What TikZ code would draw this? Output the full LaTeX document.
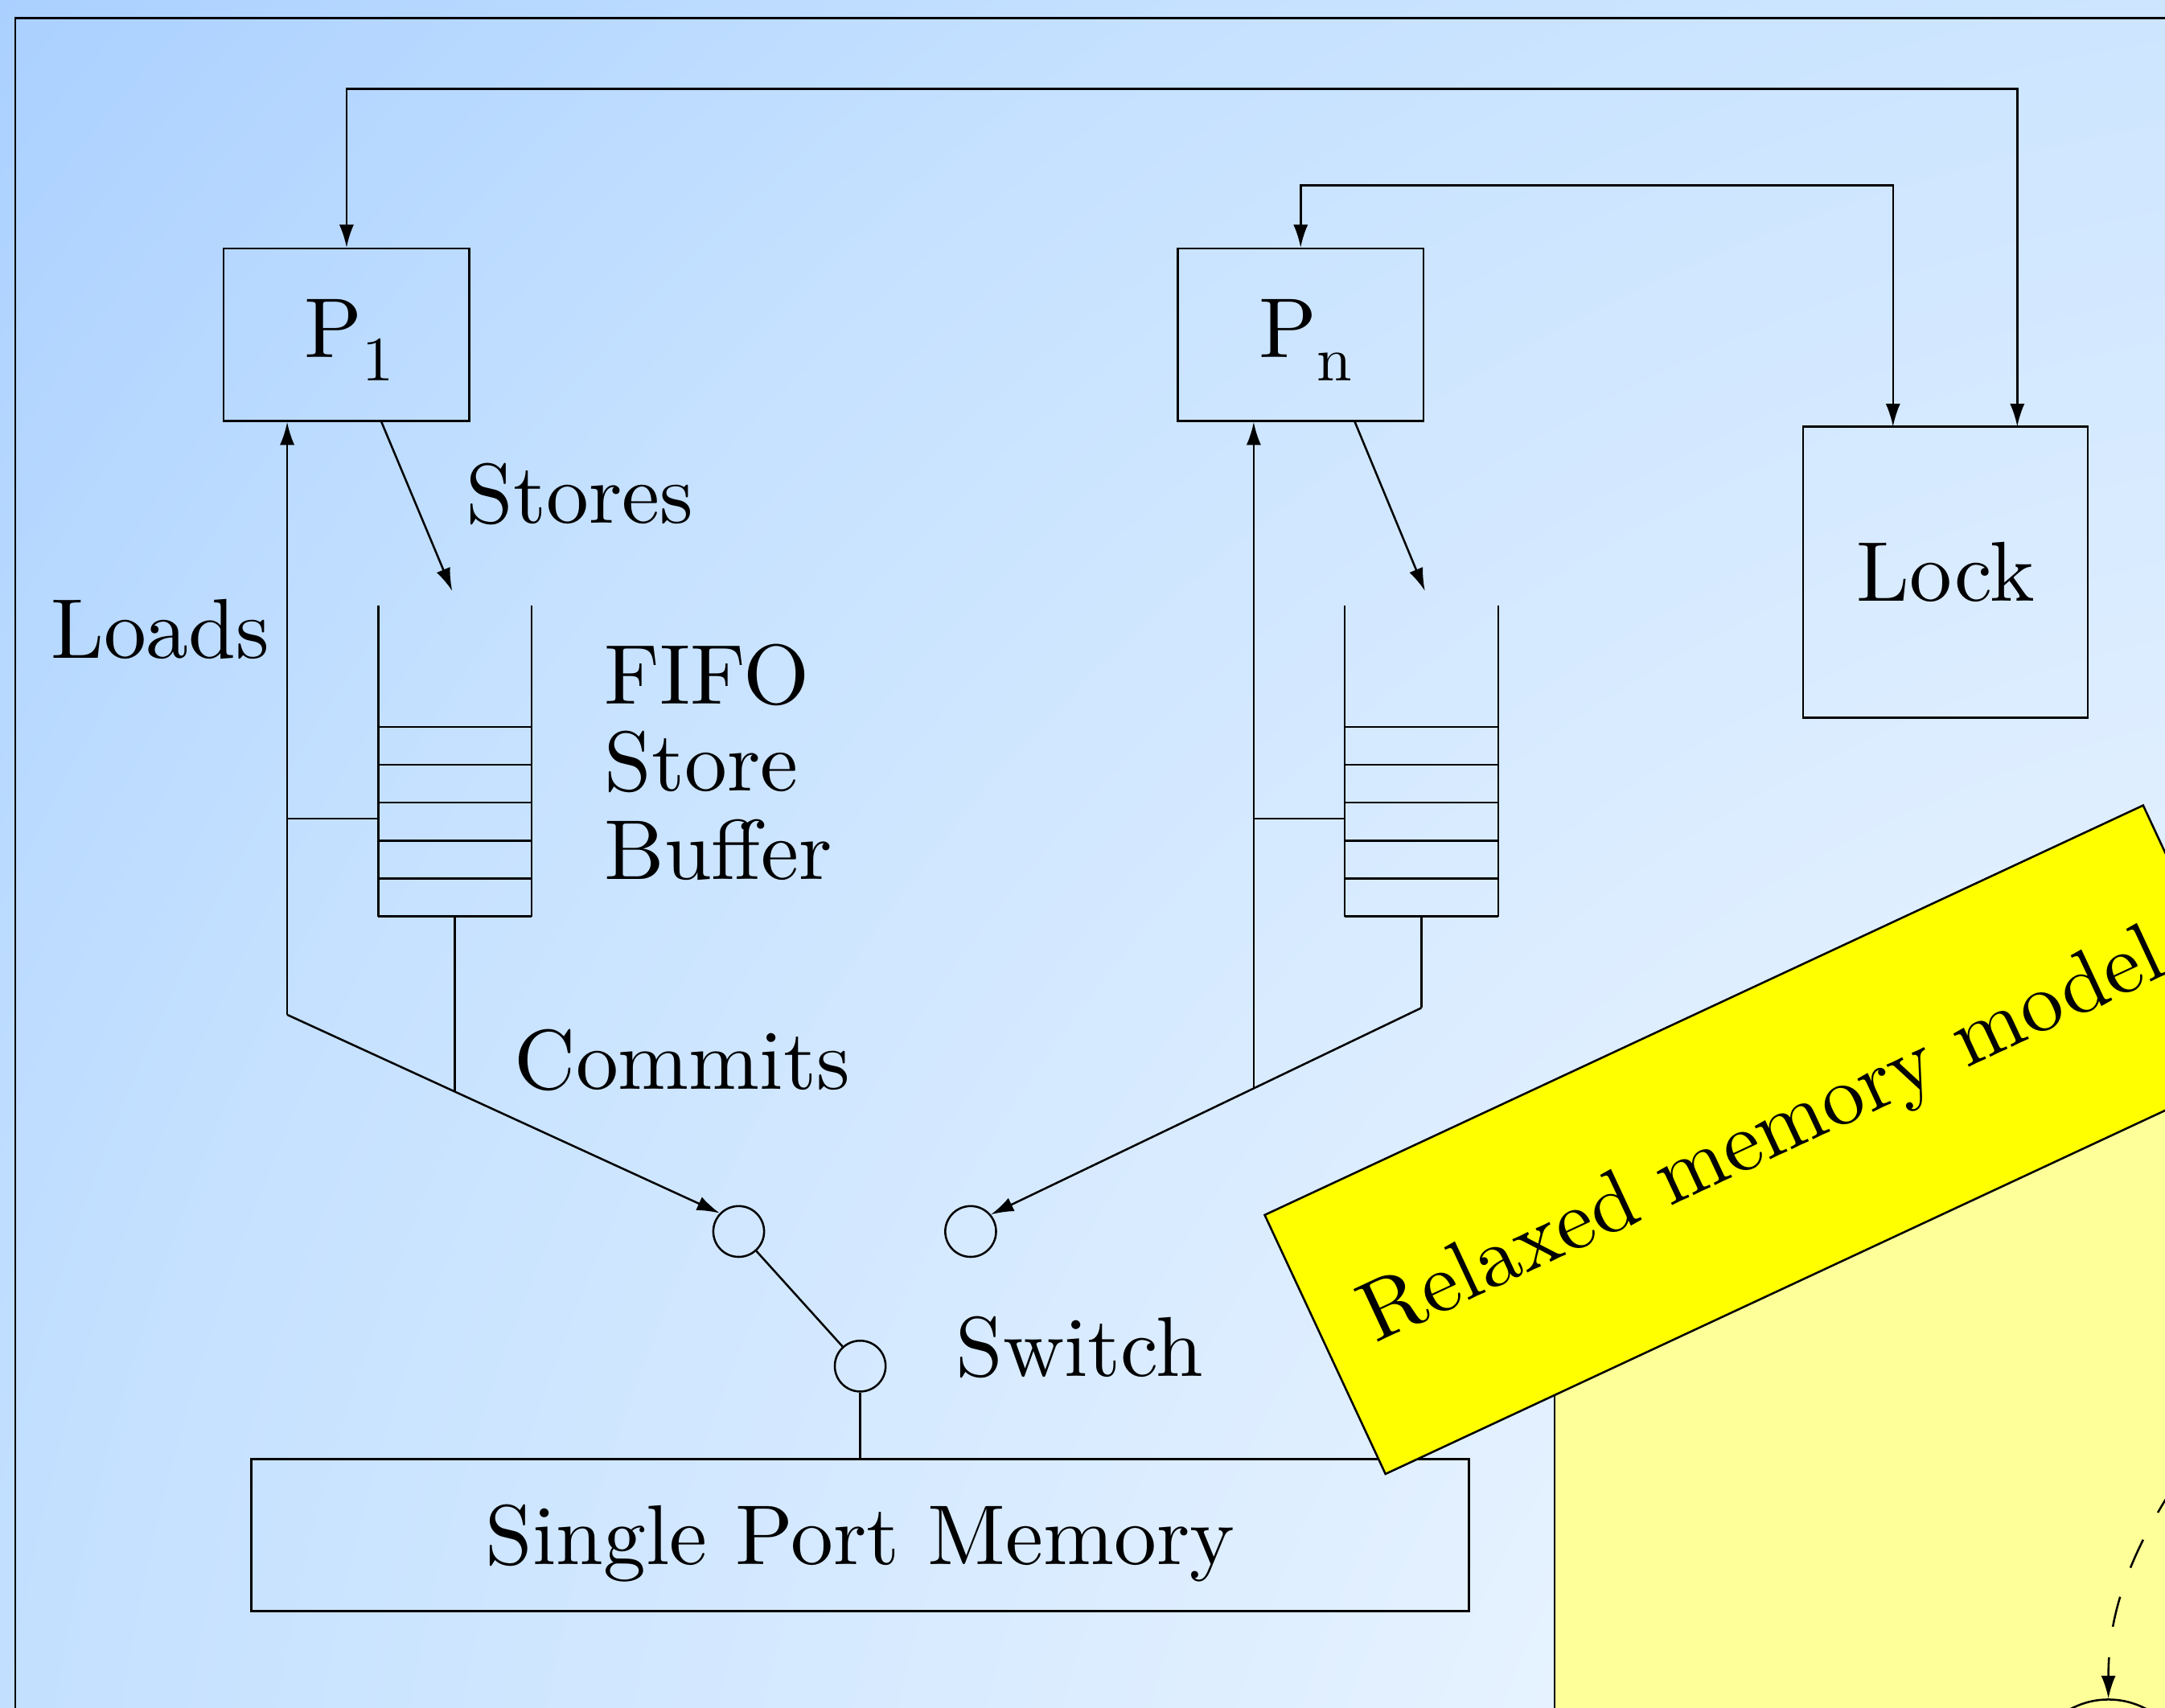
\documentclass[tikz,border=0pt]{standalone}
\usepackage{fontspec}
\setmainfont{lmroman10-regular}[Extension=.otf]
\usetikzlibrary{arrows.meta}
\definecolor{bgin}{RGB}{253,254,255}
\definecolor{bgmid}{RGB}{197,225,255}
\definecolor{bgout}{RGB}{170,208,255}
\definecolor{paleyellow}{RGB}{255,255,153}
\definecolor{bannery}{RGB}{255,255,0}
\pgfdeclareradialshading{bgshade}{\pgfpoint{0bp}{0bp}}{color(0bp)=(bgin); color(18.75bp)=(bgmid); color(25bp)=(bgout); color(50bp)=(bgout)}
\begin{document}
\begin{tikzpicture}[x=0.1mm,y=0.1mm,
  font=\fontsize{17.5}{21}\selectfont,
  line width=0.42pt,
  box/.style={draw, rectangle, inner sep=0pt},
  ring/.style={draw, circle, minimum size=3.68mm, inner sep=0pt},
  lbl/.style={anchor=base west, inner sep=0pt},
  arr/.style={-{Latex[length=4.7pt,width=3pt]}},
  dbl/.style={{Latex[length=4.7pt,width=3pt]}-{Latex[length=4.7pt,width=3pt]}},
  dashline/.style={dash pattern=on 6.35pt off 6.35pt}]
\useasboundingbox (0,0) rectangle (1568,-1237);
\clip (0,0) rectangle (1568,-1237);
% background
\shade[shading=bgshade] (1800,-1500) circle (2350);
% frame
\draw (11,-13) rectangle (1650,-1330);

% boxes
\node[box, minimum width=17.8mm, minimum height=12.5mm] (p1) at (251,-242.5) {};
\node[box, minimum width=17.8mm, minimum height=12.5mm] (pn) at (942,-242.5) {};
\node[box, minimum width=20.6mm, minimum height=21.1mm] (lock) at (1409,-414.5) {Lock};
\node[box, minimum width=88.2mm, minimum height=11mm] (mem) at (623,-1112) {};
\node[anchor=base, inner sep=0pt] (memt) at (623,-1133) {Single Port Memory};

\node[lbl] (p1t) at (220,-259) {P\raisebox{-4.8pt}{\fontsize{13}{15}\selectfont 1}};
\node[lbl] (pnt) at (911,-259) {P\raisebox{-4.8pt}{\fontsize{13}{15}\selectfont n}};

% switch circles
\node[ring] (c1) at (535,-892) {};
\node[ring] (c2) at (703,-892) {};
\node[ring] (c3) at (623,-989.5) {};

% lock connectors
\coordinate (lk1) at (1371,-309);
\coordinate (lk2) at (1461,-309);
\draw[dbl] (p1.north) -- ++(0,115) -| (lk2);
\draw[dbl] (pn.north) -- ++(0,45) -| (lk1);

% buffers
\foreach \bx in {274,974} {
  \draw (\bx,-438.5) -- (\bx,-663.8);
  \draw (\bx+111,-438.5) -- (\bx+111,-663.8);
  \foreach \k in {0,...,5} {
    \draw (\bx,-526.5-27.46*\k) -- (\bx+111,-526.5-27.46*\k);
  }
}

% P1 side
\coordinate (ld1) at (208,-735);
\coordinate (st1) at (276,-305);
\coordinate (sb1) at (327.5,-428);
\coordinate (bf1) at (274,-593);
\coordinate (bs1) at (329.5,-663.8);
\coordinate (be1) at (329.5,-791);
\draw[arr] (ld1) -- (ld1 |- p1.south);
\draw[arr] (st1) -- (sb1);
\draw (ld1 |- bf1) -- (bf1);
\draw (bs1) -- (be1);
\draw[arr] (ld1) -- (c1.136);

% Pn side
\coordinate (ldn) at (908,-788.4);
\coordinate (stn) at (981,-305);
\coordinate (sbn) at (1032,-428);
\coordinate (bfn) at (974,-593);
\coordinate (bsn) at (1029.5,-663.8);
\coordinate (ben) at (1029.5,-730);
\draw[arr] (ldn) -- (ldn |- pn.south);
\draw[arr] (stn) -- (sbn);
\draw (ldn |- bfn) -- (bfn);
\draw (bsn) -- (ben);
\draw[arr] (ben) -- (c2.40);

% switch
\draw (c1) -- (c3);
\draw (c3) -- (c3 |- mem.north);

% labels
\node[lbl] (stores) at (337,-379) {Stores};
\node[lbl] (loads) at (36,-477) {Loads};
\node[lbl] (fifo1) at (437,-510) {FIFO};
\node[lbl] (fifo2) at (437,-573) {Store};
\node[lbl] (fifo3) at (437,-637) {Buffer};
\node[lbl] (commits) at (372,-789) {Commits};
\node[lbl] (switch) at (691.5,-997) {Switch};

% pale yellow region
\draw[fill=paleyellow] (1126,-795) rectangle (1700,-1400);
\node[draw, circle, minimum size=11.6mm, inner sep=0pt, fill=paleyellow] (st) at (1527,-1289) {};
\coordinate (dstart) at (1600,-1040);
\draw[dashline, arr] (dstart) .. controls (1540,-1120) and (1527,-1170) .. (st.north);

% banner
\node[draw, fill=bannery, rotate=25, minimum width=70.2mm, minimum height=20.7mm, inner sep=0pt] (banner) at (1277.8,-825.5) {\raisebox{-1.6mm}{Relaxed memory model}};
\end{tikzpicture}
\end{document}
